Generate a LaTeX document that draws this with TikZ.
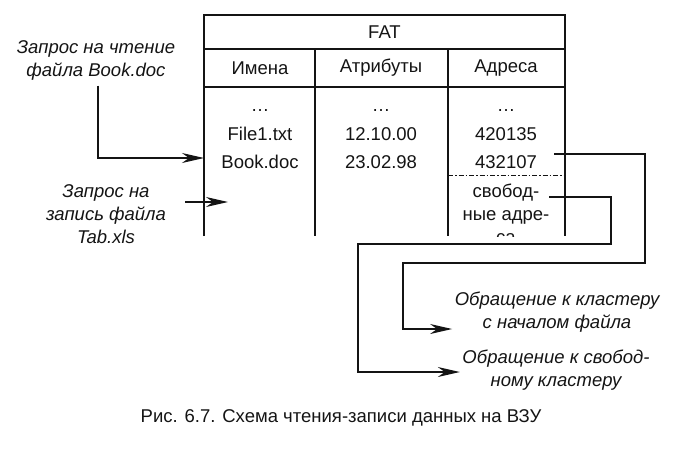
\documentclass[tikz,border=0pt]{standalone}
\usepackage{fontspec}
\setmainfont{Liberation Sans}
\usepackage{tikz}
\usetikzlibrary{arrows.meta}
\definecolor{inkblack}{RGB}{20,20,20}

\begin{document}
\begin{tikzpicture}[x=1pt, y=-1pt, line width=1.3pt, draw=inkblack,
  cell/.style={inner sep=2pt, font=\fontsize{18.5}{23}\selectfont, text=inkblack},
  lbl/.style={inner sep=2pt, align=center, font=\fontsize{18.5}{23}\selectfont\itshape, text=inkblack},
  arr/.style={-{Stealth[length=22pt, width=10pt, inset=7pt]}, line width=1.3pt}]
\useasboundingbox (0,0) rectangle (684,459);

\draw (204,236) |- (565,15) -- (565,236);
\draw (204,49) -- (565,49);
\draw (204,87) -- (565,87);
\draw (315,49) -- (315,236);
\draw (448,49) -- (448,236);
\draw[line width=1pt, dash pattern=on 5pt off 2pt on 1.5pt off 2pt] (448,175) -- (565,175);

\node (fat) [cell] at (384.5,32) {FAT};
\node (hName) [cell] at (260,68) {Имена};
\node (hAttr) [cell] at (381,68) {Атрибуты};
\node (hAddr) [cell] at (506,68) {Адреса};

\node (name0) [cell] at (260,111) {…};
\node (attr0) [cell] at (381,111) {…};
\node (addr0) [cell] at (506,111) {…};
\node (name1) [cell] at (260,134) {File1.txt};
\node (attr1) [cell] at (381,134) {12.10.00};
\node (addr1) [cell] at (506,134) {420135};
\node (name2) [cell] at (260,162) {Book.doc};
\node (attr2) [cell] at (381,162) {23.02.98};
\node (addr2) [cell] at (506,162) {432107};

\begin{scope}
\clip (448,176) rectangle (565,236);
\node (free) [cell, align=center, anchor=north] at (506,181) {свобод-\\ные адре-\\са};
\end{scope}

\node (readReq) [lbl] at (96,60) {Запрос на чтение\\файла Book.doc};
\node (writeReq) [lbl] at (106,214) {Запрос на\\запись файла\\Tab.xls};
\node (clusterStart) [lbl] at (557,312) {Обращение к кластеру\\с началом файла};
\node (clusterFree) [lbl] at (556,370) {Обращение к свобод-\\ному кластеру};
\node (caption) [cell] at (341,418) {Рис. 6.7. Схема чтения-записи данных на ВЗУ};

\coordinate (readIn) at (204,158);
\coordinate (writeFrom) at (185,202);
\coordinate (writeIn) at (228,202);
\coordinate (startFrom) at (554,154);
\coordinate (freeFrom) at (549,197);
\coordinate (startIn) at (clusterStart.west |- 0,329);
\coordinate (freeIn) at (clusterFree.west |- 0,372);

\draw[arr] ([xshift=2pt, yshift=-3pt]readReq.south) |- (readIn);
\draw[arr] (writeFrom) -- (writeIn);
\draw[arr] (startFrom) -| (645,263) -| (403,329) -- (startIn);
\draw[arr] (freeFrom) -| (611,244) -| (358,372) -- (freeIn);
\end{tikzpicture}
\end{document}
